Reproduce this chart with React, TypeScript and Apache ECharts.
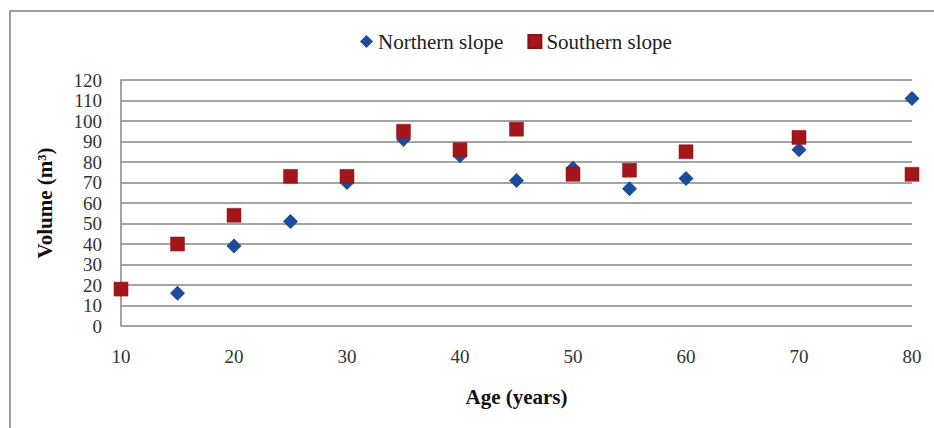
import React, { useEffect, useRef } from "react";
import * as echarts from "echarts";

const ages = [10, 15, 20, 25, 30, 35, 40, 45, 50, 55, 60, 70, 80];
const northern = [18, 16, 39, 51, 70, 91, 83, 71, 77, 67, 72, 86, 111];
const southern = [18, 40, 54, 73, 73, 95, 86, 96, 74, 76, 85, 92, 74];
const seriesNames = ["Northern slope", "Southern slope"];
const xTitle = "Age (years)";
const yTitle = "Volume (m³)";

const FONT = "Liberation Serif";

export default function App() {
  const ref = useRef<HTMLDivElement>(null);
  useEffect(() => {
    if (!ref.current) return;
    const chart = echarts.init(ref.current, undefined, { renderer: "svg" });
    chart.setOption({
      animation: false,
      backgroundColor: "#ffffff",
      textStyle: { fontFamily: FONT },
      graphic: [
        {
          type: "rect",
          shape: { x: 10, y: 11, width: 940, height: 440 },
          style: { fill: "none", stroke: "#7f7f7f", lineWidth: 1.5 },
          silent: true,
        },
      ],
      legend: {
        top: 26,
        left: 355,
        itemWidth: 13,
        itemHeight: 13,
        itemGap: 24,
        textStyle: { fontFamily: FONT, fontSize: 21, color: "#222" },
        data: [
          { name: seriesNames[0], icon: "diamond" },
          { name: seriesNames[1], icon: "rect" },
        ],
      },
      grid: { left: 121, right: 22, top: 80, bottom: 102 },
      xAxis: {
        type: "value",
        min: 10,
        max: 80,
        interval: 10,
        name: xTitle,
        nameLocation: "middle",
        nameGap: 60,
        nameTextStyle: { fontFamily: FONT, fontSize: 21, fontWeight: "bold", color: "#111" },
        axisLine: { show: false },
        axisTick: { show: false },
        splitLine: { show: false },
        axisLabel: { margin: 21, fontFamily: FONT, fontSize: 19, color: "#333" },
      },
      yAxis: {
        type: "value",
        min: 0,
        max: 120,
        interval: 10,
        name: yTitle,
        nameLocation: "middle",
        nameGap: 66,
        nameTextStyle: { fontFamily: FONT, fontSize: 21, fontWeight: "bold", color: "#111" },
        axisLine: { show: true, lineStyle: { color: "#868686", width: 1.5 } },
        axisTick: { show: false },
        splitLine: { show: true, lineStyle: { color: "#868686", width: 1.5 } },
        axisLabel: { margin: 19, fontFamily: FONT, fontSize: 19, color: "#333" },
      },
      series: [
        {
          name: seriesNames[0],
          type: "scatter",
          symbol: "diamond",
          symbolSize: 15,
          itemStyle: { color: "#1c4c9c", opacity: 1 },
          data: ages.map((a, i) => [a, northern[i]]),
        },
        {
          name: seriesNames[1],
          type: "scatter",
          symbol: "rect",
          symbolSize: 14,
          itemStyle: { color: "#a3171b", borderColor: "#8a1215", borderWidth: 0.5, opacity: 1 },
          data: ages.map((a, i) => [a, southern[i]]),
        },
      ],
    });
    return () => chart.dispose();
  }, []);
  return (
    <div
      ref={ref}
      style={{ position: "fixed", left: 0, top: 0, width: 934, height: 428 }}
    />
  );
}
